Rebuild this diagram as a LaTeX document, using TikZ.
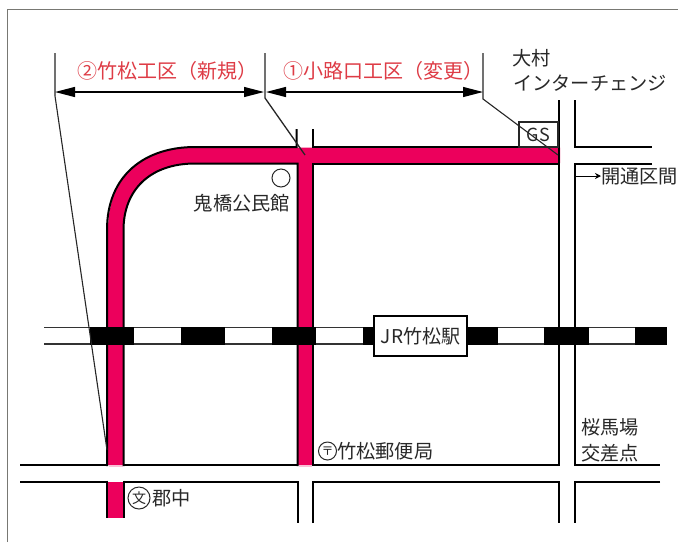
\documentclass[tikz,border=0pt]{standalone}
\usepackage{fontspec}
\setmainfont{Noto Sans CJK JP}
\usetikzlibrary{arrows.meta}
\definecolor{roadpink}{RGB}{236,0,92}
\definecolor{redtxt}{RGB}{222,60,70}
\definecolor{inktxt}{RGB}{40,40,40}
\definecolor{framegray}{RGB}{120,120,115}
\tikzset{
  road/.style={draw=black,line width=2pt,line join=miter},
  rail/.style={draw=black!80,line width=1.6pt},
  block/.style={fill=black,draw=none},
  pinkroad/.style={fill=roadpink,draw=none},
  leader/.style={draw=black!85,line width=1.1pt},
  dimline/.style={draw=black,line width=1.2pt},
  dimtip/.style={-{Triangle[length=20pt,width=10pt]}},
  label/.style={inner sep=0pt,text=inktxt,font=\fontsize{19.2}{19.2}\selectfont,anchor=west},
  redlabel/.style={inner sep=0pt,text=redtxt,font=\fontsize{20}{20}\selectfont,anchor=center},
  sym/.style={circle,draw=inktxt,line width=1pt,inner sep=0pt,text=inktxt}
}
\begin{document}
\begin{tikzpicture}[x=1pt,y=-1pt]
\useasboundingbox (0,0) rectangle (679,542);
\fill[white] (0,0) rectangle (679,542);
% frame
\draw[framegray,line width=1.1pt] (7.5,542) -- (7.5,9.5) -- (678,9.5);
% railway
\draw[rail] (44,327.5) -- (667,327.5);
\draw[rail] (44,344) -- (667,344);
% pink roads
\fill[pinkroad] (108,465) -- (108,230) .. controls (108,175) and (145,147.5) .. (195,147.5) -- (560,147.5) -- (560,163) -- (313,163) -- (313,465) -- (298,465) -- (298,163) -- (195,163) .. controls (150,163) and (123,190) .. (123,230) -- (123,465) -- cycle;
\fill[pinkroad] (108,481.5) rectangle (124,518);
\fill[roadpink!25] (109,465) rectangle (123,467);
\fill[roadpink!25] (299,465) rectangle (312,467);
% black blocks
\foreach \a/\b in {90/134,181/225,272/316,363/375,467/498,544/589,635/667}
  \fill[block] (\a,327) rectangle (\b,344.5);
% road edges
\draw[road] (107,466) -- (107,230) .. controls (107,175) and (145,147) .. (195,147) -- (296.5,147) -- (296.5,129);
\draw[road] (312.5,129) -- (312.5,147) -- (558.5,147);
\draw[road] (123.5,466) -- (123.5,230) .. controls (123.5,190) and (150,163.5) .. (195,163.5) -- (297.5,163.5) -- (297.5,466);
\draw[road] (558.5,100) -- (558.5,465) -- (313,465) -- (313,163.5) -- (558.5,163.5);
\draw[road] (20,465) -- (107,465);
\draw[road] (123.5,465) -- (297.5,465);
\draw[road] (20,481.5) -- (107,481.5);
\draw[road] (123.5,481.5) -- (297.5,481.5) -- (297.5,523);
\draw[road] (313,523) -- (313,481.5) -- (558.5,481.5) -- (558.5,523);
\draw[road] (107,480.5) -- (107,518);
\draw[road] (123.5,480.5) -- (123.5,518);
\draw[road] (574.5,100) -- (574.5,147) -- (652,147);
\draw[road] (652,163.5) -- (574.5,163.5) -- (574.5,465) -- (660,465);
\draw[road] (660,481.5) -- (574.5,481.5) -- (574.5,523);
% station
\node[draw=black,line width=2pt,fill=white,minimum width=93pt,minimum height=40pt,inner sep=0pt,text=inktxt,font=\fontsize{19}{19}\selectfont] (station) at (420.5,336) {JR竹松駅};
% GS
\node[draw=black!85,line width=1.1pt,fill=white,minimum width=39pt,minimum height=25pt,inner sep=0pt,text=inktxt,font=\fontsize{18}{18}\selectfont] (gs) at (538.5,134.5) {GS};
% dimension
\coordinate (d1) at (55,92); \coordinate (d2) at (265,92); \coordinate (d3) at (483,92);
\draw[leader] (55,53) -- (d1) -- (55,96) -- (107,450);
\draw[leader,line width=1.3pt] (265,53) -- (d2) -- (265,98) -- (305,155);
\draw[leader] (483,53) -- (d3) -- (483,99) -- (558,155);
\draw[dimline,dimtip] (160,92) -- (d1);
\draw[dimline,dimtip] (160,92) -- ([xshift=-1pt]d2);
\draw[dimline,dimtip] (370,92) -- ([xshift=1pt]d2);
\draw[dimline,dimtip] (370,92) -- (d3);
% red labels
\node[redlabel] (sec2) at (167,71) {②竹松工区（新規）};
\node[redlabel] (sec1) at (383,71) {①小路口工区（変更）};
% labels
\node[label] (ic1) at (512,58) {大村};
\node[label] (ic2) at (513,83) {インターチェンジ};
\node[label] (open) at (601,176) {開通区間};
\coordinate (openA) at (575,176);
\draw[black,line width=1pt,-{Stealth[length=6pt,width=6pt]}] (openA) -- (open.west);
\node[sym,minimum size=18pt] (hall) at (281,178) {};
\node[label,anchor=east] (hallt) at (290,203) {鬼橋公民館};
\node[sym,minimum size=18pt,font=\fontsize{12}{12}\selectfont] (post) at (327.5,451) {〒};
\node[label] (postt) at (337,451) {竹松郵便局};
\node[label] (sak1) at (581,427) {桜馬場};
\node[label] (sak2) at (581,453) {交差点};
\node[sym,minimum size=22pt,font=\fontsize{14}{14}\selectfont] (sch) at (139,498) {文};
\node[label] (scht) at (152,498) {郡中};
\end{tikzpicture}
\end{document}
